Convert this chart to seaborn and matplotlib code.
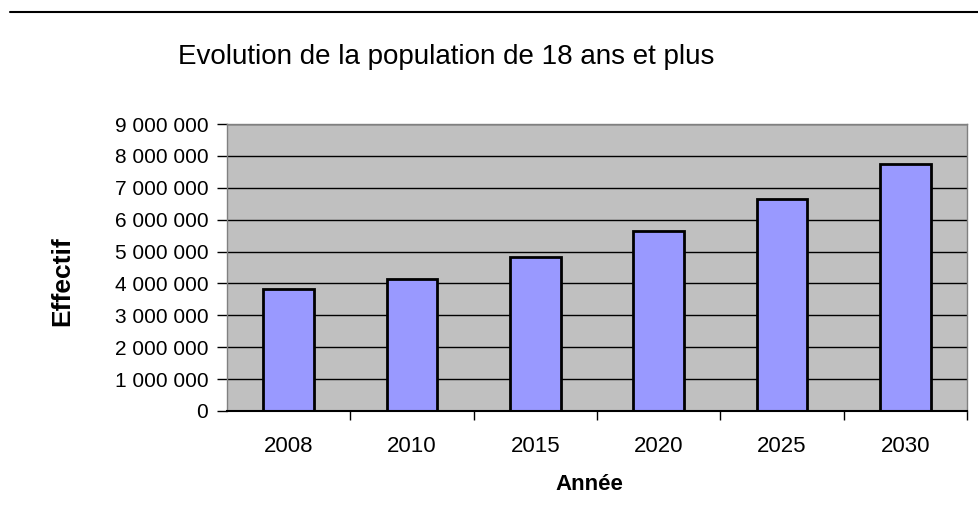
import matplotlib
matplotlib.use("Agg")
import matplotlib.pyplot as plt
import seaborn as sns
import pandas as pd
from matplotlib.ticker import FuncFormatter, FixedLocator
from matplotlib.lines import Line2D

years = ["2008", "2010", "2015", "2020", "2025", "2030"]
effectif = [3820000, 4130000, 4840000, 5640000, 6650000, 7740000]
yticks = list(range(0, 9000001, 1000000))

sns.set_theme(style="white")
plt.rcParams['font.family'] = ['Liberation Sans', 'DejaVu Sans']

df = pd.DataFrame({"Année": years, "Effectif": effectif})

fig = plt.figure(figsize=(9.79, 5.18), dpi=100)
ax = fig.add_axes([227/979, 1 - 411/518, (967-227)/979, (411-124)/518])
ax.set_facecolor("#C0C0C0")

sns.barplot(data=df, x="Année", y="Effectif", color="#9999FF", width=0.41,
            edgecolor="black", linewidth=2, saturation=1, ax=ax, zorder=3)

ax.set_ylim(0, 9000000)
ax.set_xlim(-0.5, len(years) - 0.5)
ax.set_yticks(yticks)
ax.yaxis.set_major_formatter(FuncFormatter(lambda v, p: f"{int(v):,}".replace(",", " ")))
for y in yticks[1:]:
    ax.axhline(y, color="black", linewidth=1, zorder=1)

ax.tick_params(axis="y", which="major", direction="out", length=7.5, width=1,
               color="black", labelsize=15, pad=6, left=True, labelcolor="black")
ax.tick_params(axis="x", which="major", length=0, labelsize=16, pad=18, labelcolor="black")
ax.xaxis.set_minor_locator(FixedLocator([i + 0.5 for i in range(len(years))]))
ax.tick_params(axis="x", which="minor", direction="out", length=6.5, width=1,
               color="black", bottom=True)

for s in ["top", "right", "left"]:
    ax.spines[s].set_color("#808080")
    ax.spines[s].set_linewidth(1)
ax.spines["bottom"].set_color("black")
ax.spines["bottom"].set_linewidth(1.5)
for s in ax.spines.values():
    s.set_visible(True)
    s.set_zorder(4)

ax.set_xlabel("Année", fontsize=16, fontweight="bold", color="black", va="center")
ax.xaxis.set_label_coords(0.49, (411 - 484) / 287)
ax.set_ylabel("Effectif", fontsize=19, fontweight="bold", color="black", va="center")
ax.yaxis.set_label_coords((62 - 227) / 740, (411 - 281) / 287)

fig.text(446/979, 1 - 57/518, "Evolution de la population de 18 ans et plus",
         ha="center", va="center", fontsize=20, color="black")

fig.add_artist(Line2D([10/979, 1], [1 - 12/518, 1 - 12/518], color="black", linewidth=1.5,
                      transform=fig.transFigure))

fig.savefig("out.png", dpi=100, facecolor="white")
